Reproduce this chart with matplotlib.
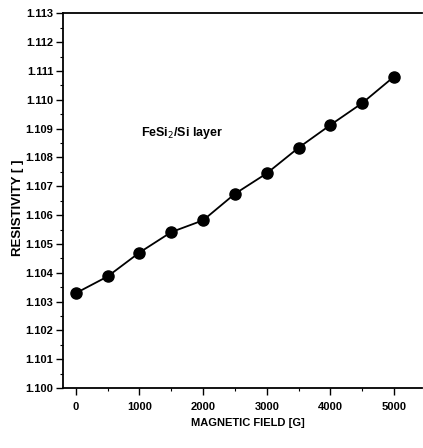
import matplotlib
matplotlib.use("Agg")
import matplotlib.pyplot as plt
from matplotlib.ticker import MultipleLocator, FormatStrFormatter

field = [0, 500, 1000, 1500, 2000, 2500, 3000, 3500, 4000, 4500, 5000]
resistivity = [1.10329, 1.10387, 1.10470, 1.10541, 1.10582, 1.10674,
               1.10745, 1.10834, 1.10913, 1.10989, 1.11081]
x_ticks = [0, 1000, 2000, 3000, 4000, 5000]

plt.rcParams['font.family'] = ['Liberation Sans', 'DejaVu Sans']

fig = plt.figure(figsize=(4.23, 4.48), dpi=100)
ax = fig.add_axes([0.149, 0.134, 0.849, 0.836])

ax.plot(field, resistivity, color='black', lw=1.3, marker='o', ms=8,
        markerfacecolor='black', markeredgecolor='black')

ax.set_xlim(-200, 5440)
ax.set_ylim(1.100, 1.113)
ax.set_xticks(x_ticks)
ax.xaxis.set_minor_locator(MultipleLocator(500))
ax.yaxis.set_major_locator(MultipleLocator(0.001))
ax.yaxis.set_minor_locator(MultipleLocator(0.0005))
ax.yaxis.set_major_formatter(FormatStrFormatter('%.3f'))

ax.tick_params(axis='both', which='major', direction='out', length=5, width=1,
               labelsize=8, pad=2)
ax.tick_params(axis='x', which='major', pad=5)
ax.tick_params(axis='both', which='minor', direction='out', length=2.5, width=0.8)
for lbl in ax.get_xticklabels() + ax.get_yticklabels():
    lbl.set_fontweight('bold')

ax.spines['right'].set_visible(False)
for s in ['left', 'bottom', 'top']:
    ax.spines[s].set_linewidth(1.3)

ax.text(1667, 1.10885, 'FeSi$_2$/Si layer', fontsize=9, ha='center', va='center',
        fontweight='bold')

ax.set_xlabel('MAGNETIC FIELD [G]', fontsize=8, fontweight='bold')
ax.xaxis.set_label_coords(0.515, -0.079)
ax.set_ylabel('RESISTIVITY [ ]', fontsize=9.5, fontweight='bold')
ax.yaxis.set_label_coords(-0.11, 0.48)

fig.savefig('out.png', dpi=100)
